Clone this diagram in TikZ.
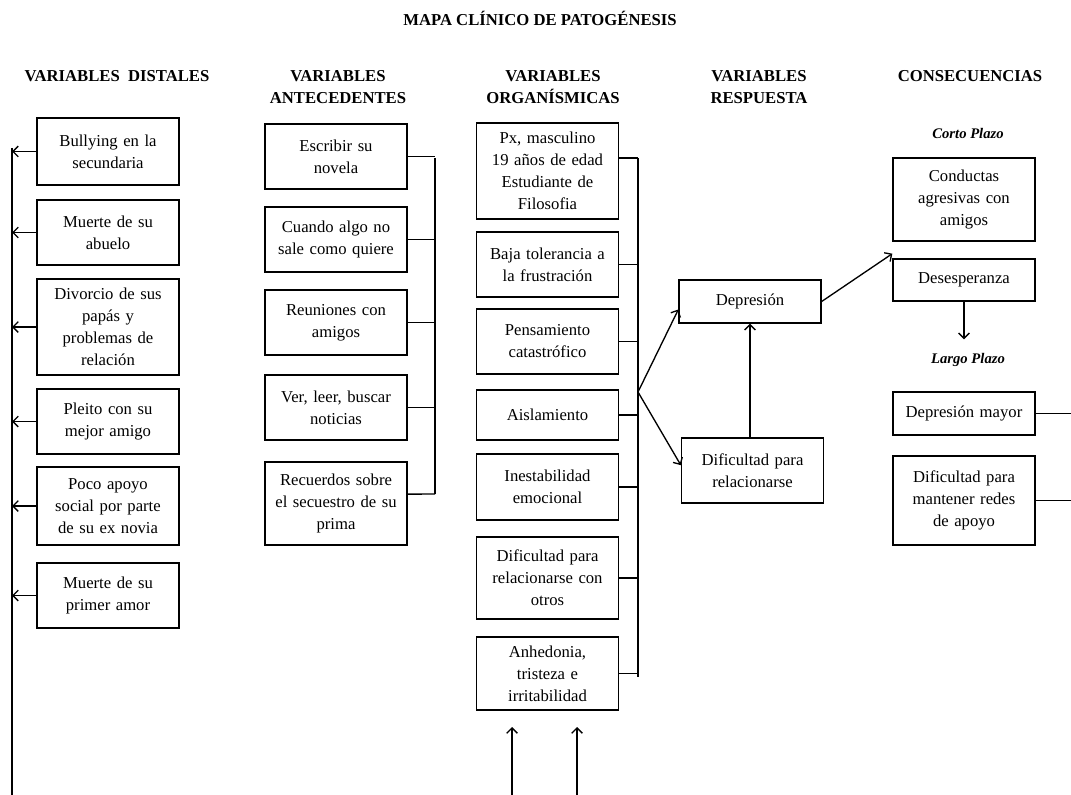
\documentclass[tikz,border=0pt]{standalone}
\usepackage{fontspec}
\setmainfont{Liberation Serif}
\usetikzlibrary{arrows.meta}

\tikzset{
    caja/.style={draw, line width=1pt, minimum width=106.5pt, text width=100pt, align=center, inner sep=2pt, font=\fontsize{12.5}{16.5}\selectfont},
    titulo/.style={align=center, font=\fontsize{12.5}{16.5}\selectfont\bfseries},
    plazo/.style={font=\fontsize{11}{13}\selectfont\bfseries\itshape},
    linea/.style={line width=1pt},
    >={Straight Barb[length=4pt,width=8pt]}
}

\begin{document}
\begin{tikzpicture}[x=0.75pt,y=-0.75pt]
    \useasboundingbox (0,0) rectangle (1071,795);

    \node[titulo] (mapa) at (540,18) {MAPA CLÍNICO DE PATOGÉNESIS};
    \node[titulo] (hdist) at (117,76) {VARIABLES\enspace DISTALES};
    \node[titulo] (hante) at (338,87) {VARIABLES\\ANTECEDENTES};
    \node[titulo] (horg) at (553,87) {VARIABLES\\ORGANÍSMICAS};
    \node[titulo] (hresp) at (759,87) {VARIABLES\\RESPUESTA};
    \node[titulo] (hcons) at (970,76) {CONSECUENCIAS};

    \node[caja, minimum height=50.25pt] (d1) at (108,151.5) {Bullying en la\\secundaria};
    \node[caja, minimum height=48.75pt] (d2) at (108,232.5) {Muerte de su\\abuelo};
    \node[caja, minimum height=72pt] (d3) at (108,327) {Divorcio de sus\\papás y\\problemas de\\relación};
    \node[caja, minimum height=48.75pt] (d4) at (108,421.5) {Pleito con su\\mejor amigo};
    \node[caja, minimum height=58.5pt] (d5) at (108,506) {Poco apoyo\\social por parte\\de su ex novia};
    \node[caja, minimum height=48.75pt] (d6) at (108,595.5) {Muerte de su\\primer amor};

    \node[caja, minimum height=48.75pt] (a1) at (336,156.5) {Escribir su\\novela};
    \node[caja, minimum height=48.75pt] (a2) at (336,239.5) {Cuando algo no\\sale como quiere};
    \node[caja, minimum height=48.75pt] (a3) at (336,322.5) {Reuniones con\\amigos};
    \node[caja, minimum height=48.75pt] (a4) at (336,407.5) {Ver, leer, buscar\\noticias};
    \node[caja, minimum height=62.25pt] (a5) at (336,503.5) {Recuerdos sobre\\el secuestro de su\\prima};

    \node[caja, minimum height=72pt] (o1) at (547.5,171) {Px, masculino\\19 años de edad\\Estudiante de\\Filosofia};
    \node[caja, minimum height=48.75pt] (o2) at (547.5,264.5) {Baja tolerancia a\\la frustración};
    \node[caja, minimum height=48.75pt] (o3) at (547.5,341.5) {Pensamiento\\catastrófico};
    \node[caja, minimum height=37.5pt] (o4) at (547.5,415) {Aislamiento};
    \node[caja, minimum height=49.5pt] (o5) at (547.5,487) {Inestabilidad\\emocional};
    \node[caja, minimum height=61.5pt] (o6) at (547.5,578) {Dificultad para\\relacionarse con\\otros};
    \node[caja, minimum height=54.75pt] (o7) at (547.5,673.5) {Anhedonia,\\tristeza e\\irritabilidad};

    \node[caja, minimum height=32.25pt] (dep) at (750,301.5) {Depresión};
    \node[caja, minimum height=48.75pt] (dif) at (752.5,470.5) {Dificultad para\\relacionarse};

    \node[plazo] (corto) at (968,133) {Corto Plazo};
    \node[caja, minimum height=62.25pt] (cond) at (964,199.5) {Conductas\\agresivas con\\amigos};
    \node[caja, minimum height=31.5pt] (des) at (964,280) {Desesperanza};
    \node[plazo] (largo) at (968,360) {Largo Plazo};
    \node[caja, minimum height=32.25pt] (dmay) at (964,413.5) {Depresión mayor};
    \node[caja, minimum height=66.75pt] (dred) at (964,500.5) {Dificultad para\\mantener redes\\de apoyo};

    \coordinate (izqA) at (12,148);
    \coordinate (izqB) at (12,795);
    \coordinate (antA) at (435,158);
    \coordinate (antB) at (435,494);
    \coordinate (orgA) at (638,158);
    \coordinate (orgB) at (638,677);
    \coordinate (orgM) at (638,392);
    \coordinate (borde) at (1071,0);
    \coordinate (f1) at (512,795);
    \coordinate (t1) at (512,727);
    \coordinate (f2) at (577,795);
    \coordinate (t2) at (577,727);

    \draw[linea] (izqA) -- (izqB);
    \foreach \n in {d1,d2,d3,d4,d5,d6}
        \draw[linea,->] (\n.west) -- (\n.west -| izqA);

    \draw[linea] (antA) -- (antB);
    \foreach \n in {a1,a2,a3,a4}
        \draw[linea] (\n.east) -- (\n.east -| antA);
    \draw[linea] ([yshift=7pt]a5.east) -- (antB);

    \draw[linea] (orgA) -- (orgB);
    \draw[linea] ([yshift=9.75pt]o1.east) -- (orgA);
    \foreach \n in {o2,o3,o4,o5,o6,o7}
        \draw[linea] (\n.east) -- (\n.east -| orgA);

    \draw[linea,->] (orgM) -- ([yshift=-6pt]dep.west);
    \draw[linea,->] (orgM) -- ([yshift=4pt]dif.west);
    \draw[linea,->] (dep.south |- dif.north) -- (dep.south);
    \draw[linea,->] (dep.east) -- ([yshift=-9pt]cond.south west);
    \draw[linea,->] (des.south) -- ([yshift=7pt]des.south |- largo.north);

    \draw[linea] (dmay.east) -- (dmay.east -| borde)
    (dred.east) -- (dred.east -| borde);

    \draw[linea,->] (f1) -- (t1);
    \draw[linea,->] (f2) -- (t2);

\end{tikzpicture}
\end{document}
